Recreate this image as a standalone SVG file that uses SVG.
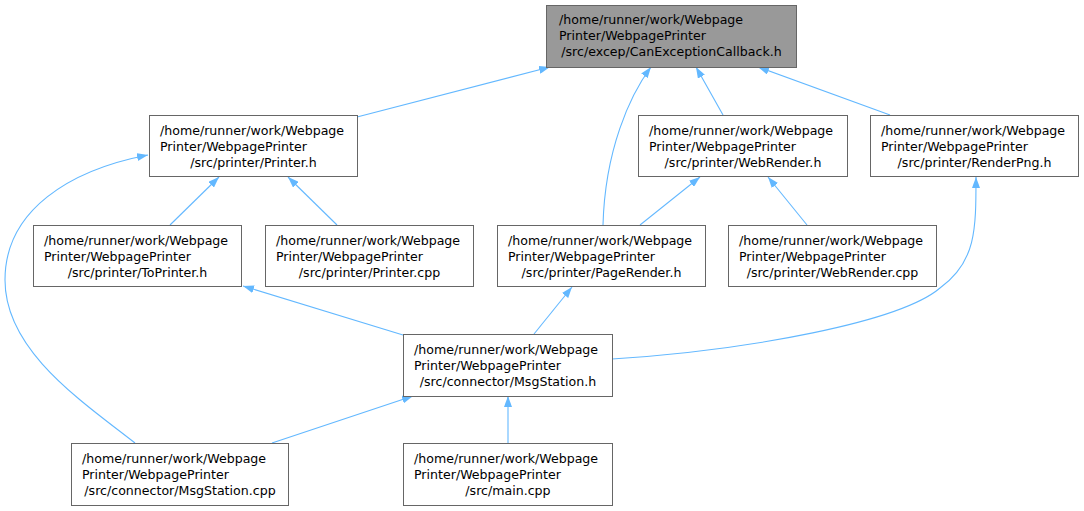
<svg xmlns="http://www.w3.org/2000/svg" width="1084" height="511" viewBox="0 0 1084 511">
<style>
.box{fill:#ffffff;stroke:#666666;stroke-width:1}
.root{fill:#999999;stroke:#666666;stroke-width:1}
text{font-family:"DejaVu Sans","Liberation Sans",sans-serif;font-size:12.6px;fill:#000000}
.m{text-anchor:middle}
.e{fill:none;stroke:#63b8ff;stroke-width:1.1}
</style>
<defs>
<marker id="ah" viewBox="0 0 11 8" refX="11" refY="4" markerWidth="11" markerHeight="8" markerUnits="userSpaceOnUse" orient="auto-start-reverse">
<path d="M0,0 L11,4 L0,8 z" fill="#63b8ff"/>
</marker>
</defs>
<rect width="1084" height="511" fill="#ffffff"/>
<g id="edges">
<path class="e" marker-start="url(#ah)" d="M550,67 L357,117"/>
<path class="e" marker-start="url(#ah)" d="M651,67 C630,95 605,150 603,225"/>
<path class="e" marker-start="url(#ah)" d="M696,67 L723,115"/>
<path class="e" marker-start="url(#ah)" d="M758,67 L890,115"/>
<path class="e" marker-start="url(#ah)" d="M219,177 L170,225"/>
<path class="e" marker-start="url(#ah)" d="M288,177 L337,225"/>
<path class="e" marker-start="url(#ah)" d="M700,177 L640,225"/>
<path class="e" marker-start="url(#ah)" d="M768,177 L807,225"/>
<path class="e" marker-start="url(#ah)" d="M243,286 L403,335"/>
<path class="e" marker-start="url(#ah)" d="M572,287 L534,334"/>
<path class="e" marker-start="url(#ah)" d="M976,177 C976,230 976,262 940,288 C900,322 750,350 612,359"/>
<path class="e" marker-start="url(#ah)" d="M413,396 L272,443"/>
<path class="e" marker-start="url(#ah)" d="M508,396 L508,443"/>
<path class="e" marker-start="url(#ah)" d="M148,155 C70,170 5,210 5,280 C5,350 80,400 135,443"/>
</g>
<g id="n_root">
<rect class="root" x="546.5" y="5.5" width="250" height="62"/>
<text x="559" y="24">/home/runner/work/Webpage</text>
<text x="559" y="40">Printer/WebpagePrinter</text>
<text x="671.5" y="56" class="m">/src/excep/CanExceptionCallback.h</text>
</g>
<g id="n_printer_h">
<rect class="box" x="149.5" y="115.5" width="208" height="61"/>
<text x="160" y="134.5">/home/runner/work/Webpage</text>
<text x="160" y="150.5">Printer/WebpagePrinter</text>
<text x="253.5" y="166.5" class="m">/src/printer/Printer.h</text>
</g>
<g id="n_webrender_h">
<rect class="box" x="638.5" y="115.5" width="209" height="61"/>
<text x="649" y="134.5">/home/runner/work/Webpage</text>
<text x="649" y="150.5">Printer/WebpagePrinter</text>
<text x="743" y="166.5" class="m">/src/printer/WebRender.h</text>
</g>
<g id="n_renderpng_h">
<rect class="box" x="870.5" y="115.5" width="208" height="61"/>
<text x="881" y="134.5">/home/runner/work/Webpage</text>
<text x="881" y="150.5">Printer/WebpagePrinter</text>
<text x="974.5" y="166.5" class="m">/src/printer/RenderPng.h</text>
</g>
<g id="n_toprinter_h">
<rect class="box" x="33.5" y="225.5" width="208" height="61"/>
<text x="44" y="244.5">/home/runner/work/Webpage</text>
<text x="44" y="260.5">Printer/WebpagePrinter</text>
<text x="137.5" y="276.5" class="m">/src/printer/ToPrinter.h</text>
</g>
<g id="n_printer_cpp">
<rect class="box" x="265.5" y="225.5" width="208" height="61"/>
<text x="276" y="244.5">/home/runner/work/Webpage</text>
<text x="276" y="260.5">Printer/WebpagePrinter</text>
<text x="369.5" y="276.5" class="m">/src/printer/Printer.cpp</text>
</g>
<g id="n_pagerender_h">
<rect class="box" x="497.5" y="225.5" width="208" height="61"/>
<text x="508" y="244.5">/home/runner/work/Webpage</text>
<text x="508" y="260.5">Printer/WebpagePrinter</text>
<text x="601.5" y="276.5" class="m">/src/printer/PageRender.h</text>
</g>
<g id="n_webrender_cpp">
<rect class="box" x="728.5" y="225.5" width="208" height="61"/>
<text x="739" y="244.5">/home/runner/work/Webpage</text>
<text x="739" y="260.5">Printer/WebpagePrinter</text>
<text x="832.5" y="276.5" class="m">/src/printer/WebRender.cpp</text>
</g>
<g id="n_msgstation_h">
<rect class="box" x="403.5" y="334.5" width="209" height="62"/>
<text x="414" y="353.5">/home/runner/work/Webpage</text>
<text x="414" y="369.5">Printer/WebpagePrinter</text>
<text x="508" y="385.5" class="m">/src/connector/MsgStation.h</text>
</g>
<g id="n_msgstation_cpp">
<rect class="box" x="71.5" y="443.5" width="217" height="62"/>
<text x="82" y="462.5">/home/runner/work/Webpage</text>
<text x="82" y="478.5">Printer/WebpagePrinter</text>
<text x="180" y="494.5" class="m">/src/connector/MsgStation.cpp</text>
</g>
<g id="n_main_cpp">
<rect class="box" x="403.5" y="443.5" width="209" height="62"/>
<text x="414" y="462.5">/home/runner/work/Webpage</text>
<text x="414" y="478.5">Printer/WebpagePrinter</text>
<text x="508" y="494.5" class="m">/src/main.cpp</text>
</g>
</svg>
